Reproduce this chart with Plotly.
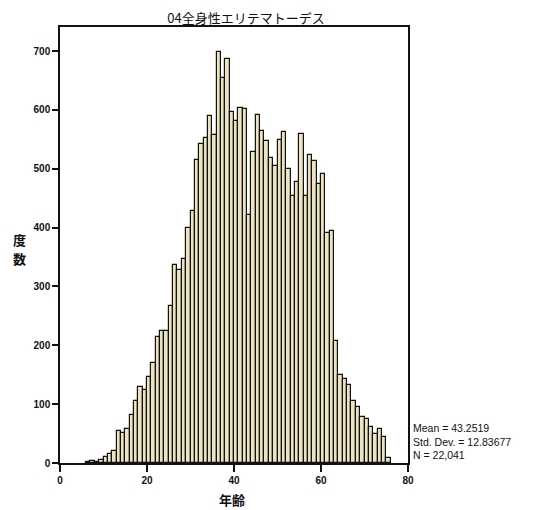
import plotly.graph_objects as go

# Age bins (integer ages, each bin [a, a+1))
ages = list(range(6, 76))
counts = [
    2, 4, 1, 5, 10, 16, 21,            # 6-12
    55, 51, 57, 81, 105, 129, 124,     # 13-19
    146, 170, 215, 224, 224, 266, 337, # 20-26
    328, 347, 399, 428, 515, 542, 552, # 27-33
    589, 557, 699, 655, 686, 597, 582, # 34-40
    604, 601, 421, 528, 591, 565, 548, # 41-47
    518, 504, 549, 562, 499, 453, 477, # 48-54
    559, 453, 524, 514, 474, 491, 391, # 55-61
    395, 208, 150, 142, 132, 106, 95,  # 62-68
    78, 75, 61, 49, 58, 45, 8          # 69-75
]

x_ticks = [0, 20, 40, 60, 80]
y_ticks = [0, 100, 200, 300, 400, 500, 600, 700]

title_text = "04全身性エリテマトーデス"
x_title = "年齢"
y_title_chars = ["度", "数"]
stats_text = "Mean = 43.2519<br>Std. Dev. = 12.83677<br>N = 22,041"

# page body has an 8px margin; lay out in reference pixel coords minus that
OFF = 8
W, H = 534 - OFF, 510 - OFF
L, T = 60 - OFF, 27 - OFF
pw, ph = 348, 436
R, B = W - L - pw, H - T - ph

def px_x(p):
    return (p - OFF - L) / pw

def px_y(p):
    return (T + ph - (p - OFF)) / ph

fig = go.Figure(
    go.Bar(
        x=[a + 0.5 for a in ages],
        y=counts,
        width=1,
        marker=dict(color="#ece3c0", line=dict(color="#111111", width=1.2)),
        showlegend=False,
    )
)

annotations = [
    dict(
        text=x_title, xref="paper", yref="paper",
        x=px_x(232), y=px_y(499), xanchor="center", yanchor="middle",
        showarrow=False,
        font=dict(family="Noto Sans CJK JP", size=13, weight="bold"),
    ),
    dict(
        text=stats_text, xref="paper", yref="paper",
        x=px_x(411), y=px_y(441), xanchor="left", yanchor="middle",
        align="left", showarrow=False,
        font=dict(family="Liberation Sans", size=10.5),
    ),
]
for ch, yy in zip(y_title_chars, [239, 258]):
    annotations.append(dict(
        text=ch, xref="paper", yref="paper",
        x=px_x(19), y=px_y(yy), xanchor="center", yanchor="middle",
        showarrow=False,
        font=dict(family="Noto Sans CJK JP", size=13, weight="bold"),
    ))

fig.update_layout(
    width=W,
    height=H,
    margin=dict(l=L, r=R, t=T, b=B),
    paper_bgcolor="white",
    plot_bgcolor="white",
    bargap=0,
    font=dict(family="Liberation Sans, Arial, sans-serif", color="#111111"),
    title=dict(
        text=title_text,
        x=(246 - OFF) / W,
        xanchor="center",
        y=1 - (18 - OFF) / H,
        yanchor="middle",
        font=dict(family="Noto Sans CJK JP", size=13, color="#111111"),
    ),
    xaxis=dict(
        range=[0, 80],
        tickvals=x_ticks,
        ticktext=[str(v) for v in x_ticks],
        ticks="outside",
        ticklen=7,
        tickwidth=1.5,
        tickcolor="#111111",
        showline=True,
        linecolor="#111111",
        linewidth=1.5,
        mirror=True,
        showgrid=False,
        zeroline=False,
        tickfont=dict(size=10, family="Liberation Sans", weight="bold"),
    ),
    yaxis=dict(
        range=[0, 741],
        tickvals=y_ticks,
        ticktext=[str(v) for v in y_ticks],
        ticks="outside",
        ticklen=6,
        tickwidth=1.5,
        tickcolor="#111111",
        showline=True,
        linecolor="#111111",
        linewidth=1.5,
        mirror=True,
        showgrid=False,
        zeroline=False,
        tickfont=dict(size=10, family="Liberation Sans", weight="bold"),
    ),
    annotations=annotations,
)

fig.write_html("out.html")
